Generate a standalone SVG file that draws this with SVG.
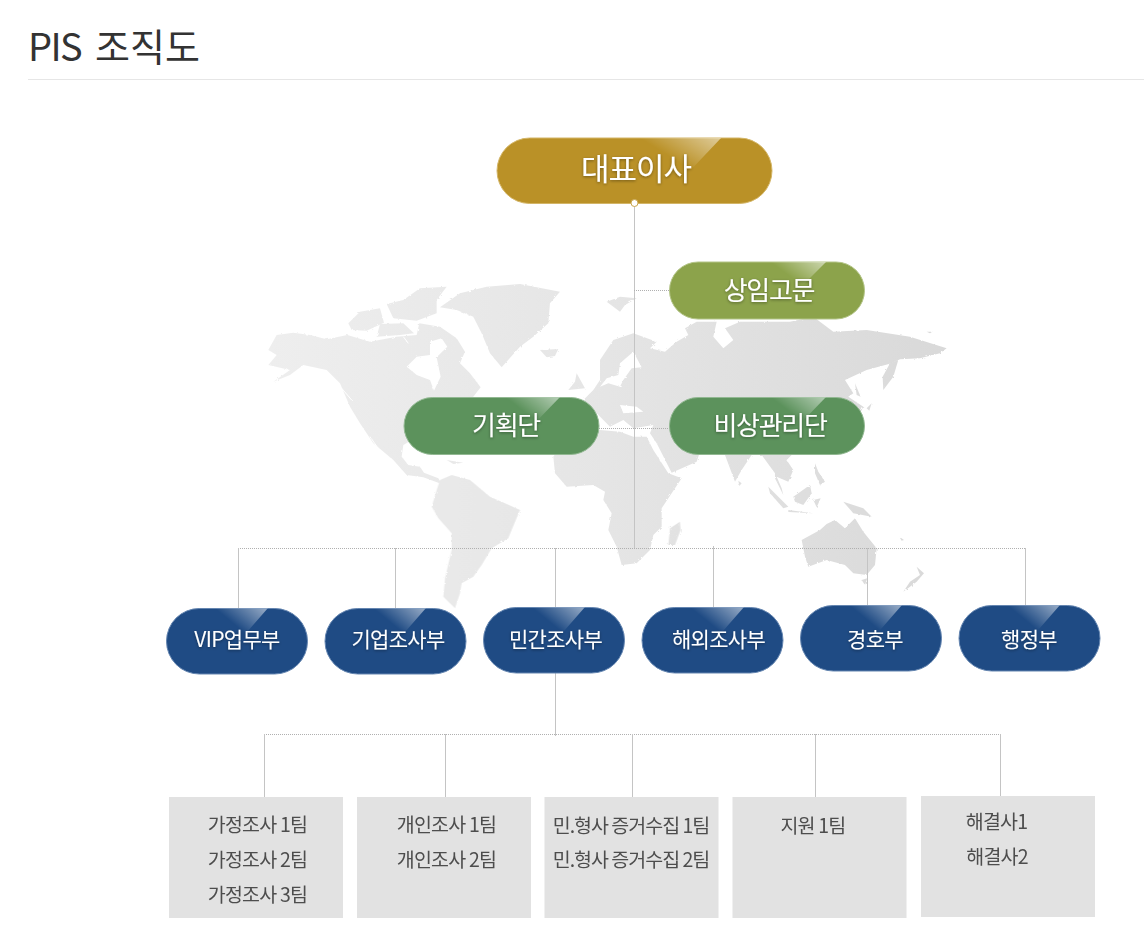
<svg xmlns="http://www.w3.org/2000/svg" width="1144" height="938" viewBox="0 0 1144 938">
<style>
text{font-family:"Noto Sans CJK KR","Noto Sans",sans-serif;text-anchor:middle}
.title{font-size:38px;fill:#333;text-anchor:start}
.p{fill:#fff;filter:url(#ts)}
.big{font-size:31px;letter-spacing:-1px}
.mid{font-size:26px;letter-spacing:-1.3px}
.sm{font-size:21px;letter-spacing:-.7px}
.t{font-size:19.500px;fill:#4d4d4d;letter-spacing:-.8px}
.t2{letter-spacing:-1px}
.box{fill:#e2e2e2}
.gold{fill:#ba9127;stroke:#d3b567;stroke-width:1}
.olive{fill:#8ca34b;stroke:#b3c487;stroke-width:1}
.green{fill:#5c925c;stroke:#92b892;stroke-width:1}
.blue{fill:#1f4b84;stroke:#6485b0;stroke-width:1}
.solid{stroke:#c4c4c4;stroke-width:1;fill:none}
.dot{stroke:#b0b0b0;stroke-width:1;stroke-dasharray:1 1;fill:none}
.g1{fill:url(#m1)}.g2{fill:url(#m2)}.g3{fill:url(#m3)}.g4{fill:url(#m4)}
.cut{fill:#fff}
.slit{stroke:#fff;stroke-width:3;fill:none}
</style>
<defs>
<linearGradient id="mapg"><stop offset="0" stop-color="#eeeeee"/><stop offset=".5" stop-color="#e5e5e5"/><stop offset="1" stop-color="#d9d9d9"/></linearGradient>
<linearGradient id="m1" href="#mapg" gradientUnits="userSpaceOnUse" x1="30" y1="0" x2="2055" y2="0"/>
<linearGradient id="m2" href="#mapg" gradientUnits="userSpaceOnUse" x1="-990" y1="0" x2="1035" y2="0"/>
<linearGradient id="m3" href="#mapg" gradientUnits="userSpaceOnUse" x1="-450" y1="0" x2="1575" y2="0"/>
<linearGradient id="m4" href="#mapg" gradientUnits="userSpaceOnUse" x1="-1350" y1="0" x2="675" y2="0"/>
<linearGradient id="sh" x1="0" y1=".5" x2="1" y2="0"><stop offset=".45" stop-color="#fff" stop-opacity="0"/><stop offset="1" stop-color="#fff" stop-opacity=".55"/></linearGradient>
<filter id="ts" x="-20%" y="-30%" width="140%" height="160%"><feDropShadow dx="0" dy="1" stdDeviation="1.500" flood-color="#000" flood-opacity=".4"/></filter>
<filter id="rough" filterUnits="userSpaceOnUse" x="250" y="270" width="720" height="350"><feTurbulence type="fractalNoise" baseFrequency=".35" numOctaves="2" seed="4"/><feDisplacementMap in="SourceGraphic" scale="2.500"/></filter>
</defs>

<text class="title" x="28" y="61" letter-spacing="-1.6">PIS</text>
<text class="title" x="95" y="61">조직도</text>
<rect x="28" y="79" width="1116" height="1" fill="#e6e6e6"/>

<g id="worldmap" filter="url(#rough)">
<g transform="translate(260,280) scale(.3333)">
<path class="g1" d="M25 210L50 165 100 158 150 165 200 178 262 165 330 185 410 170 470 165 478 130 540 140 590 175 615 215 600 250 630 280 662 322 640 350 560 420 430 495 425 530 445 555 480 560 492 578 535 595 545 612 490 592 440 585 400 540 340 490 300 430 270 380 240 310 200 270 130 255 90 285 40 305 90 270 25 255 50 225Z"/>
<path class="cut" d="M440 260L470 230 510 225 510 185 545 175 562 200 530 232 542 290 522 332 510 300 470 285Z"/>
<path class="slit" d="M245 325L275 360M330 470L365 520M410 150L470 155M430 170L445 190"/>
<path class="g1" d="M265 130L300 95 360 85 372 128 320 152 275 150Z"/>
<path class="g1" d="M380 72L430 60 480 25 560 20 530 60 530 100 470 122 400 115Z"/>
<path class="g1" d="M360 132L430 130 462 160 420 165 350 170Z"/>
<path class="g1" d="M540 82L600 40 680 20 780 12 900 35 870 70 865 130 820 170 780 200 725 262 690 220 665 160 640 110 590 90Z"/>
<path class="g1" d="M840 210L895 207 885 228 860 232Z"/>
<path class="g1" d="M950 280L975 325 925 330 945 305Z"/>
<path class="g1" d="M560 540L610 548 580 552Z"/>
</g>
<g transform="translate(600,280) scale(.3333)">
<path class="g2" d="M-35 345L-20 330 0 300 0 240 40 180 100 160 170 185 150 205 195 215 230 185 265 165 255 145 290 125 350 125 340 170 370 205 400 180 375 145 420 125 570 125 640 110 700 155 800 150 930 170 1040 205 1020 220 960 235 900 238 875 250 800 270 735 300 760 340 745 350 790 380 770 420 740 480 575 525 560 540 580 570 565 605 530 590 545 625 550 645 525 595 525 580 485 525 455 525 425 570 405 605 375 525 300 515 290 545 215 578 170 490 150 460 160 435 100 445 70 420 30 440 -10 400 -60 430 -60 470 -100 470 -110 420Z"/>
<path class="cut" d="M100 215L125 262 95 265 70 300 60 320 25 310 0 320 20 295 55 285 60 250Z"/>
<path class="cut" d="M60 375L110 380 130 395 70 400Z"/>
<path class="g2" d="M-140 530L-100 470 -60 460 0 450 60 455 100 470 140 470 160 510 205 580 245 595 185 685 185 740 160 765 150 810 110 850 65 855 50 800 25 750 35 700 10 660 15 635 -20 615 -100 620 -135 580Z"/>
<path class="g2" d="M20 65L60 50 110 55 75 75 60 95 40 80Z"/>
<path class="g2" d="M895 240L880 290 850 330 848 290 870 250Z"/>
<path class="g2" d="M765 310L782 350 770 345Z"/>
<path class="g2" d="M800 385L815 370 808 392Z"/>
<path class="g2" d="M980 155L998 155 990 160Z"/>
</g>
<g transform="translate(420,450) scale(.3333)">
<path class="g3" d="M35 170L50 120 60 90 95 75 150 90 210 140 255 160 300 180 275 240 265 265 215 295 185 345 160 380 125 400 120 430 105 475 70 440 75 385 95 300 95 250 55 205Z"/>
<path class="g3" d="M745 285L750 235 780 215 782 240 765 285Z"/>
</g>
<g transform="translate(720,450) scale(.3333)">
<path class="g4" d="M55 92L65 100 58 108Z"/>
<path class="g4" d="M145 110L205 170 190 175 150 130Z"/>
<path class="g4" d="M205 180L280 190 205 186Z"/>
<path class="g4" d="M220 140L270 105 275 130 250 165 225 155Z"/>
<path class="g4" d="M280 150L302 145 290 172Z"/>
<path class="g4" d="M285 40L295 65 315 95 300 105 285 70Z"/>
<path class="g4" d="M370 155L430 175 455 200 400 190Z"/>
<path class="g4" d="M245 270L300 240 320 222 345 210 375 235 405 205 430 245 470 295 465 345 440 375 400 370 375 345 320 330 265 350 255 320Z"/>
<path class="g4" d="M425 390L442 385 435 405Z"/>
<path class="g4" d="M590 350L612 370 590 395 550 425 570 395 600 375Z"/>
<path class="g4" d="M538 260L552 270 545 272Z"/>
</g>
</g>

<g id="connectors">
<path class="solid" d="M634.500 203V548"/>
<path class="dot" d="M634 290.500H669M599 428.500H669M238 548.500H1025M264 734.500H1000"/>
<path class="solid" d="M238.500 548V608M395.500 548V608M555.500 548V607M713.500 546V607M867.500 548V605M1025.500 548V605"/>
<path class="solid" d="M555.500 673V736M264.500 734V797M445.500 734V797M632.500 734V797M815.500 734V797M1000.500 734V796"/>
</g>

<g id="ceo">
<clipPath id="c0"><rect x="497" y="138" width="275" height="65.500" rx="32.700"/></clipPath>
<rect class="gold" x="497" y="138" width="275" height="65.500" rx="32.700"/>
<path clip-path="url(#c0)" d="M600 137H722L686 175H600Z" fill="url(#sh)"/>
<text class="p big" x="636" y="180">대표이사</text>
<circle cx="634.500" cy="203" r="3.500" fill="#fff" stroke="#c9a650" stroke-width="1"/>
</g>

<g id="advisor">
<clipPath id="c1"><rect x="669.500" y="262" width="195" height="57" rx="28.500"/></clipPath>
<rect class="olive" x="669.500" y="262" width="195" height="57" rx="28.500"/>
<path clip-path="url(#c1)" d="M745 262H826L796 292H745Z" fill="url(#sh)"/>
<text class="p mid" x="769" y="300">상임고문</text>
</g>

<g id="planning">
<clipPath id="c2"><rect x="404" y="397.500" width="195" height="57" rx="28.500"/></clipPath>
<rect class="green" x="404" y="397.500" width="195" height="57" rx="28.500"/>
<path clip-path="url(#c2)" d="M480 397H560L530 428H480Z" fill="url(#sh)"/>
<text class="p mid" x="506" y="435">기획단</text>
</g>

<g id="emergency">
<clipPath id="c3"><rect x="669.500" y="397.500" width="195" height="57" rx="28.500"/></clipPath>
<rect class="green" x="669.500" y="397.500" width="195" height="57" rx="28.500"/>
<path clip-path="url(#c3)" d="M745 397H826L796 428H745Z" fill="url(#sh)"/>
<text class="p mid" x="770" y="435">비상관리단</text>
</g>

<g id="vip">
<clipPath id="c4"><rect x="166.500" y="608.500" width="141" height="65.500" rx="32.700"/></clipPath>
<rect class="blue" x="166.500" y="608.500" width="141" height="65.500" rx="32.700"/>
<path clip-path="url(#c4)" d="M190 608H268L240 640H190Z" fill="url(#sh)"/>
<text class="p sm" x="237" y="647">VIP업무부</text>
</g>
<g id="corp">
<clipPath id="c5"><rect x="325" y="608.500" width="141" height="65.500" rx="32.700"/></clipPath>
<rect class="blue" x="325" y="608.500" width="141" height="65.500" rx="32.700"/>
<path clip-path="url(#c5)" d="M349 608H426L398 640H349Z" fill="url(#sh)"/>
<text class="p sm" x="398" y="647">기업조사부</text>
</g>
<g id="civil">
<clipPath id="c6"><rect x="483.500" y="607.500" width="141" height="65.500" rx="32.700"/></clipPath>
<rect class="blue" x="483.500" y="607.500" width="141" height="65.500" rx="32.700"/>
<path clip-path="url(#c6)" d="M507 607H585L557 639H507Z" fill="url(#sh)"/>
<text class="p sm" x="555.500" y="647">민간조사부</text>
</g>
<g id="overseas">
<clipPath id="c7"><rect x="642" y="607.500" width="141" height="65.500" rx="32.700"/></clipPath>
<rect class="blue" x="642" y="607.500" width="141" height="65.500" rx="32.700"/>
<path clip-path="url(#c7)" d="M665 607H744L716 639H665Z" fill="url(#sh)"/>
<text class="p sm" x="718.500" y="647">해외조사부</text>
</g>
<g id="security">
<clipPath id="c8"><rect x="800.500" y="605.500" width="141" height="65.500" rx="32.700"/></clipPath>
<rect class="blue" x="800.500" y="605.500" width="141" height="65.500" rx="32.700"/>
<path clip-path="url(#c8)" d="M825 605H902L874 637H825Z" fill="url(#sh)"/>
<text class="p sm" x="875" y="647">경호부</text>
</g>
<g id="admin">
<clipPath id="c9"><rect x="959" y="605.500" width="141" height="65.500" rx="32.700"/></clipPath>
<rect class="blue" x="959" y="605.500" width="141" height="65.500" rx="32.700"/>
<path clip-path="url(#c9)" d="M983 605H1060L1032 637H983Z" fill="url(#sh)"/>
<text class="p sm" x="1029" y="647">행정부</text>
</g>

<g id="team1">
<rect class="box" x="169" y="797" width="174" height="121"/>
<text class="t" x="257.500" y="832">가정조사 1팀</text>
<text class="t" x="257.500" y="867">가정조사 2팀</text>
<text class="t" x="257.500" y="902">가정조사 3팀</text>
</g>
<g id="team2">
<rect class="box" x="357" y="797" width="174" height="121"/>
<text class="t" x="446.500" y="832">개인조사 1팀</text>
<text class="t" x="446.500" y="867">개인조사 2팀</text>
</g>
<g id="team3">
<rect class="box" x="544.500" y="797" width="174" height="121"/>
<text class="t t2" x="631" y="833">민.형사 증거수집 1팀</text>
<text class="t t2" x="631" y="867">민.형사 증거수집 2팀</text>
</g>
<g id="team4">
<rect class="box" x="732.500" y="797" width="174" height="121"/>
<text class="t" x="813" y="833">지원 1팀</text>
</g>
<g id="team5">
<rect class="box" x="921" y="796" width="174" height="121"/>
<text class="t" x="996.500" y="829">해결사1</text>
<text class="t" x="997" y="864">해결사2</text>
</g>
</svg>
